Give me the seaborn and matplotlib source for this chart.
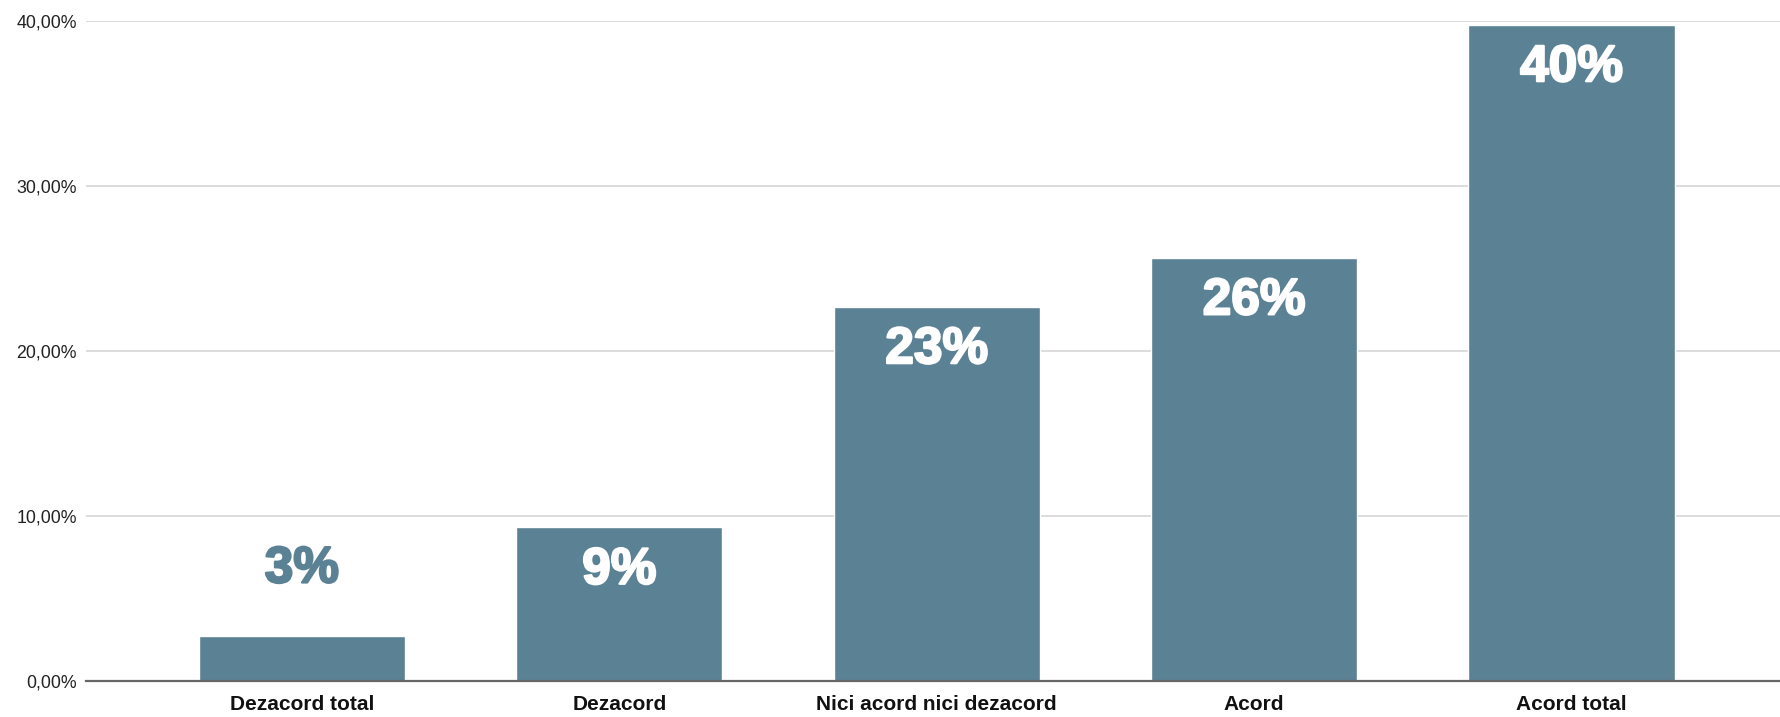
import matplotlib
matplotlib.use("Agg")
import matplotlib.pyplot as plt
import matplotlib.patheffects as pe
import seaborn as sns

# survey answers (share of respondents, %)
categories = ["Dezacord total", "Dezacord", "Nici acord nici dezacord", "Acord", "Acord total"]
values = [2.73, 9.3, 22.67, 25.63, 39.76]
labels = ["3%", "9%", "23%", "26%", "40%"]
yticks = [0, 10, 20, 30, 40]
ytick_labels = ["0,00%", "10,00%", "20,00%", "30,00%", "40,00%"]

bar_color = "#5b8294"

sns.set_style("white")
plt.rcParams["font.family"] = ["Liberation Sans", "DejaVu Sans"]

fig = plt.figure(figsize=(17.81, 7.17), dpi=100)
ax = fig.add_axes([86 / 1781, 36.3 / 717, 1 - 86 / 1781, 660 / 717])

sns.barplot(x=categories, y=values, color=bar_color, saturation=1, width=0.65, ax=ax)

ax.set_xlim(-0.68, 4.66)
ax.set_ylim(0, 40)
ax.set_yticks(yticks)
ax.set_yticklabels(ytick_labels, fontsize=12.8, color="#222222")
ax.yaxis.grid(True, color="#d6d6d6", linewidth=1.2)
ax.set_axisbelow(True)
ax.tick_params(axis="y", length=0, pad=6.5)
ax.tick_params(axis="x", length=0, pad=10)
for lab in ax.get_xticklabels():
    lab.set_fontweight("bold")
    lab.set_fontsize(15)
    lab.set_color("#111111")
ax.set_xlabel("")
ax.set_ylabel("")
for s in ["top", "left", "right"]:
    ax.spines[s].set_visible(False)
ax.spines["bottom"].set_color("#666666")
ax.spines["bottom"].set_linewidth(1.6)

# value labels: inside the bar near the top, above it when the bar is too short
for i, (v, t) in enumerate(zip(values, labels)):
    inside = v > 6
    col = "white" if inside else bar_color
    ax.annotate(t, (i, v), xytext=(0, -31 if inside else 48), textcoords="offset points",
                ha="center", va="center", color=col,
                fontsize=37, fontweight="bold", family="Liberation Sans",
                path_effects=[pe.withStroke(linewidth=1.6, foreground=col)])

fig.savefig("out.png", dpi=100)
